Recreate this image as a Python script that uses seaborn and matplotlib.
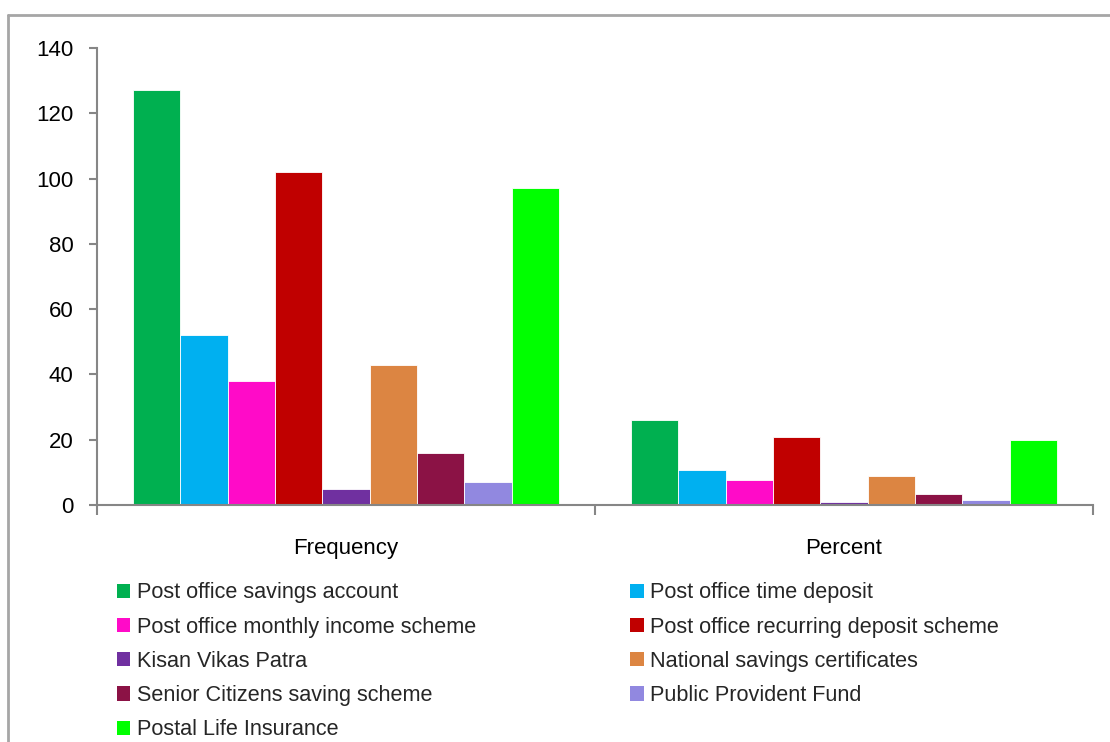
import matplotlib
matplotlib.use("Agg")
import matplotlib.pyplot as plt
from matplotlib.lines import Line2D
from matplotlib.patches import Patch
import seaborn as sns
import pandas as pd

categories = ["Frequency", "Percent"]
schemes = [
    "Post office savings account",
    "Post office time deposit",
    "Post office monthly income scheme",
    "Post office recurring deposit scheme",
    "Kisan Vikas Patra",
    "National savings certificates",
    "Senior Citizens saving scheme",
    "Public Provident Fund",
    "Postal Life Insurance",
]
frequency = [127, 52, 38, 102, 5, 43, 16, 7, 97]
percent = [26.1, 10.7, 7.8, 20.9, 1.0, 8.8, 3.3, 1.4, 19.9]
colors = ["#00B050", "#00B0F0", "#FF0BC8", "#C00000", "#7030A0",
          "#DC8542", "#8B1245", "#9188E0", "#00FF00"]
yticks = [0, 20, 40, 60, 80, 100, 120, 140]

rows = []
for s, f, p in zip(schemes, frequency, percent):
    rows.append({"cat": categories[0], "scheme": s, "value": f})
    rows.append({"cat": categories[1], "scheme": s, "value": p})
df = pd.DataFrame(rows)

sns.set_theme(style="white")
plt.rcParams["font.family"] = ["Liberation Sans", "DejaVu Sans"]

fig = plt.figure(figsize=(11.10, 7.42), dpi=100)
ax = fig.add_axes([0.0874, 0.3194, 0.8973, 0.6159])

sns.barplot(data=df, x="cat", y="value", hue="scheme", order=categories,
            hue_order=schemes, palette=colors, width=0.855, ax=ax,
            edgecolor="white", linewidth=0.6, saturation=1, legend=False,
            errorbar=None)

axis_col = "#868686"
ax.set_xlim(-0.5, 1.5)
ax.set_ylim(0, 140)
ax.set_yticks(yticks)
ax.set_yticklabels([str(v) for v in yticks], fontsize=16, color="black")
ax.set_xticks([0, 1])
ax.set_xticklabels(categories, fontsize=16, color="black")
ax.set_xticks([-0.5, 0.5, 1.5], minor=True)
ax.tick_params(axis="x", which="major", length=0, pad=24)
ax.tick_params(axis="x", which="minor", length=7, width=1.5, color=axis_col, direction="out", bottom=True)
ax.tick_params(axis="y", length=6, width=1.5, color=axis_col, direction="out", left=True, pad=11)
ax.set_xlabel("")
ax.set_ylabel("")
for side in ["top", "right"]:
    ax.spines[side].set_visible(False)
for side in ["left", "bottom"]:
    ax.spines[side].set_color(axis_col)
    ax.spines[side].set_linewidth(1.5)

# legend, row-major order in 2 columns
handles = [Patch(facecolor=c, edgecolor="none") for c in colors]
order = [0, 2, 4, 6, 8, 1, 3, 5, 7]
leg = fig.legend([handles[i] for i in order], [schemes[i] for i in order],
                 ncol=2, loc="upper left", bbox_to_anchor=(0.105, 0.215),
                 frameon=False, fontsize=15.6, handlelength=0.64, handleheight=0.64,
                 handletextpad=0.3, labelspacing=0.61, columnspacing=7.1,
                 borderaxespad=0, borderpad=0)

# outer chart frame (top and left edges)
frame_col = "#A6A6A6"
fig.add_artist(Line2D([8 / 1110, 1.0], [1 - 15 / 742, 1 - 15 / 742], transform=fig.transFigure,
                      color=frame_col, linewidth=2))
fig.add_artist(Line2D([8 / 1110, 8 / 1110], [0, 1 - 15 / 742], transform=fig.transFigure,
                      color=frame_col, linewidth=2))

fig.savefig("out.png", dpi=100, facecolor="white")
